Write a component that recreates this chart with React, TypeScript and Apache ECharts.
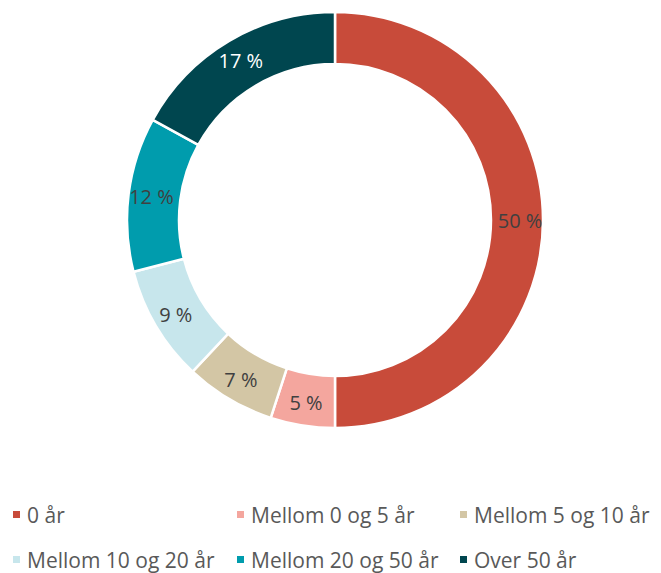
import React, { useEffect, useRef } from "react";
import * as echarts from "echarts";

const categories = ["0 år", "Mellom 0 og 5 år", "Mellom 5 og 10 år", "Mellom 10 og 20 år", "Mellom 20 og 50 år", "Over 50 år"];
const values = [50, 5, 7, 9, 12, 17];
const colors = ["#C84B3A", "#F4A69E", "#D3C6A5", "#C7E6EC", "#009CAD", "#00464F"];
const labelColors = ["#404040", "#404040", "#404040", "#404040", "#404040", "#FFFFFF"];

const legendPos = [
  { left: 3, top: 496 },
  { left: 227, top: 496 },
  { left: 450, top: 496 },
  { left: 3, top: 541 },
  { left: 227, top: 541 },
  { left: 450, top: 541 },
];

const FONT = "'Open Sans', 'Noto Sans', sans-serif";

export default function App() {
  const ref = useRef<HTMLDivElement>(null);
  useEffect(() => {
    if (!ref.current) return;
    const chart = echarts.init(ref.current, undefined, { renderer: "svg" });
    chart.setOption({
      animation: false,
      color: colors,
      legend: categories.map((c, i) => ({
        data: [c],
        left: legendPos[i].left,
        top: legendPos[i].top,
        icon: "rect",
        itemWidth: 9,
        itemHeight: 9,
        itemGap: 0,
        padding: 0,
        selectedMode: false,
        textStyle: { fontFamily: FONT, fontSize: 21, color: "#595959", padding: [0, 0, 0, 1] },
      })),
      series: [
        {
          type: "pie",
          center: [327, 212],
          radius: [156, 208],
          startAngle: 90,
          clockwise: true,
          avoidLabelOverlap: false,
          itemStyle: { borderColor: "#ffffff", borderWidth: 2.5 },
          label: {
            show: true,
            position: "inside",
            fontFamily: FONT,
            fontSize: 20,
            formatter: (p: any) => p.value + " %",
          },
          labelLine: { show: false },
          emphasis: { disabled: true },
          data: categories.map((c, i) => ({
            name: c,
            value: values[i],
            label: { color: labelColors[i] },
          })),
        },
      ],
    });
    return () => chart.dispose();
  }, []);
  return <div ref={ref} style={{ width: 653, height: 565 }} />;
}
